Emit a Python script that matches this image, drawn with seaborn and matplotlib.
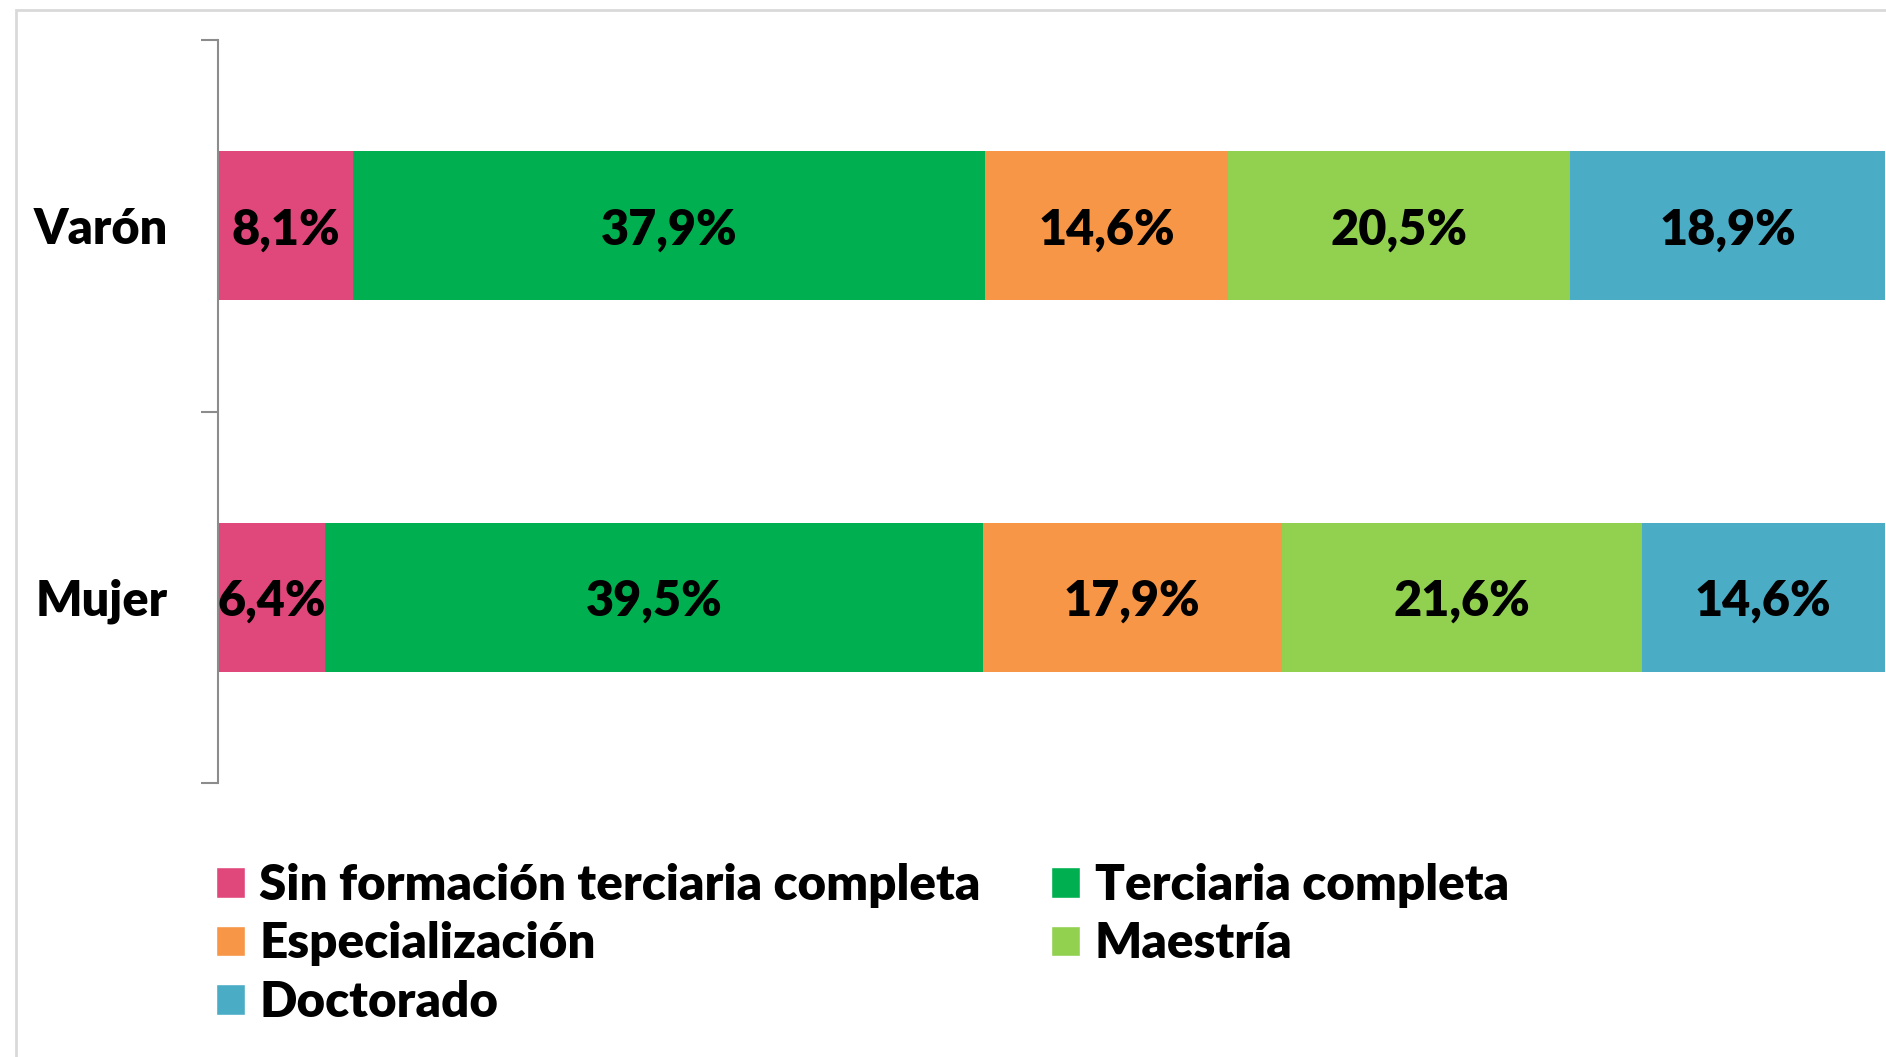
import numpy as np
import pandas as pd
import matplotlib
matplotlib.use("Agg")
import matplotlib.pyplot as plt
import seaborn as sns
from matplotlib.patches import Rectangle, Patch

groups = ["Varón", "Mujer"]
levels = ["Sin formación terciaria completa", "Terciaria completa",
          "Especialización", "Maestría", "Doctorado"]
varon = [8.1, 37.9, 14.6, 20.5, 18.9]
mujer = [6.4, 39.5, 17.9, 21.6, 14.6]
colors = ["#E0487C", "#00B050", "#F79646", "#92D050", "#4BACC6"]

sns.set_style("white")
plt.rcParams["font.family"] = ["Lato", "DejaVu Sans"]
plt.rcParams["font.weight"] = "heavy"
plt.rcParams["text.color"] = "black"
plt.rcParams["ytick.color"] = "black"

df = pd.DataFrame({"grupo": np.repeat(groups, len(levels)),
                   "nivel": levels * len(groups),
                   "valor": varon + mujer})
df["fin"] = df.groupby("grupo")["valor"].cumsum()
df["centro"] = df["fin"] - df["valor"] / 2

fig = plt.figure(figsize=(18.86, 10.57), dpi=100)
ax = fig.add_axes([218 / 1886, 1 - 783 / 1057, 1 - 219 / 1886, (783 - 40) / 1057])

# stacked bars: draw cumulative totals from the last level backwards
for nivel, col in reversed(list(zip(levels, colors))):
    sub = df[df["nivel"] == nivel]
    sns.barplot(data=sub, x="fin", y="grupo", order=groups, color=col,
                width=0.4, saturation=1, ax=ax, orient="h", linewidth=0)

for _, r in df.iterrows():
    ax.text(r["centro"], groups.index(r["grupo"]),
            f"{r['valor']:.1f}%".replace(".", ","),
            ha="center", va="center_baseline", fontsize=35, fontweight="heavy")

ax.set_xlim(0, 100)
ax.set_ylim(1.5, -0.5)
ax.set_xlabel("")
ax.set_ylabel("")
ax.set_xticks([])
for s in ["top", "right", "bottom"]:
    ax.spines[s].set_visible(False)
ax.spines["left"].set_color("#8C8C8C")
ax.spines["left"].set_linewidth(1.5)
ax.set_yticks([-0.5, 0.5, 1.5], minor=True)
ax.tick_params(axis="y", which="minor", length=12, width=1.5, color="#8C8C8C", left=True)
ax.tick_params(axis="y", which="major", length=0, pad=36, labelsize=35)
for t in ax.get_yticklabels():
    t.set_fontweight("heavy")

handles = [Patch(facecolor=c, label=l) for l, c in zip(levels, colors)]
order = [0, 2, 4, 1, 3]
fig.legend([handles[i] for i in order], [levels[i] for i in order],
           ncol=2, loc="upper left", bbox_to_anchor=(216 / 1886, 1 - 863 / 1057),
           frameon=False, fontsize=35.5, handlelength=0.58, handleheight=0.58,
           handletextpad=0.3, labelspacing=0.27, columnspacing=1.43,
           borderaxespad=0, borderpad=0)

# light frame around the chart area
fig.patches.append(Rectangle((16 / 1886, -0.1), 1.2, 1 - 10 / 1057 + 0.1,
                             transform=fig.transFigure, fill=False,
                             edgecolor="#D9D9D9", linewidth=2))

fig.savefig("out.png", dpi=100)
